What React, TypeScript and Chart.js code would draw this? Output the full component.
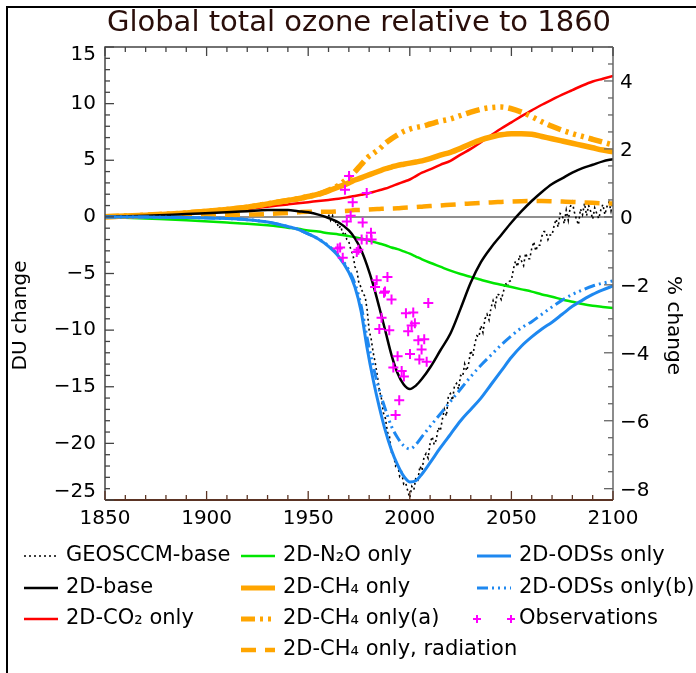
import React, { useEffect, useRef } from "react";
import { Chart, registerables } from "chart.js";

Chart.register(...registerables);

const FONT_FAMILY = "'DejaVu Sans', 'Liberation Sans', Arial, sans-serif";

const chartTitle = "Global total ozone relative to 1860";
const leftAxisTitle = "DU change";
const rightAxisTitle = "% change";

const yearRange = [1850, 2100];
const duRange = [-25, 15];
const duPerPercent = 3;
const xMajorTicks = [1850, 1900, 1950, 2000, 2050, 2100];
const xMinorStep = 10;
const duMajorTicks = [15, 10, 5, 0, -5, -10, -15, -20, -25];
const duMinorStep = 1;
const pctMajorTicks = [4, 2, 0, -2, -4, -6, -8];
const pctMinorStep = 0.5;

// 2D model years
const modelYears = [
  1850, 1870, 1890, 1910, 1920, 1930, 1940, 1945, 1950, 1955,
  1960, 1965, 1970, 1973, 1976, 1979, 1982, 1985, 1988, 1991,
  1994, 1997, 2000, 2003, 2006, 2010, 2015, 2020, 2025, 2030,
  2035, 2040, 2045, 2050, 2055, 2060, 2065, 2070, 2075, 2080,
  2085, 2090, 2095, 2100,
];

const base2D = [
  0, 0.1, 0.25, 0.4, 0.5, 0.6, 0.6, 0.5, 0.4, 0.2,
  -0.1, -0.5, -1.2, -1.9, -2.9, -4.3, -6.0, -8.0, -10.1, -12.2,
  -13.8, -14.8, -15.2, -14.9, -14.3, -13.3, -11.8, -10.3, -8.1, -5.8,
  -4.0, -2.7, -1.6, -0.5, 0.5, 1.4, 2.2, 2.9, 3.4, 3.9,
  4.3, 4.6, 4.9, 5.1,
];

const co2Only = [
  0, 0.12, 0.3, 0.55, 0.7, 0.9, 1.1, 1.2, 1.3, 1.4,
  1.5, 1.6, 1.75, 1.85, 1.95, 2.05, 2.2, 2.35, 2.5, 2.7,
  2.9, 3.1, 3.3, 3.6, 3.9, 4.2, 4.6, 4.95, 5.5, 6.0,
  6.6, 7.2, 7.8, 8.35, 8.9, 9.4, 9.9, 10.35, 10.8, 11.2,
  11.6, 11.95, 12.2, 12.45,
];

const n2oOnly = [
  0, -0.15, -0.3, -0.5, -0.6, -0.75, -0.95, -1.05, -1.2, -1.3,
  -1.45, -1.55, -1.7, -1.8, -1.9, -2.05, -2.2, -2.35, -2.5, -2.7,
  -2.85, -3.05, -3.25, -3.5, -3.75, -4.05, -4.4, -4.75, -5.05, -5.3,
  -5.55, -5.8, -6.0, -6.2, -6.4, -6.6, -6.85, -7.05, -7.3, -7.5,
  -7.7, -7.85, -7.95, -8.05,
];

const ch4Only = [
  0, 0.15, 0.35, 0.65, 0.85, 1.15, 1.45, 1.6, 1.8, 2.0,
  2.3, 2.65, 3.0, 3.25, 3.45, 3.65, 3.85, 4.05, 4.25, 4.4,
  4.55, 4.65, 4.75, 4.85, 4.95, 5.15, 5.45, 5.7, 6.05, 6.45,
  6.8, 7.05, 7.25, 7.35, 7.35, 7.3, 7.1, 6.9, 6.7, 6.5,
  6.3, 6.1, 5.9, 5.75,
];

const ch4OnlyA = [
  0, 0.15, 0.35, 0.65, 0.85, 1.15, 1.45, 1.6, 1.8, 2.0,
  2.35, 2.8, 3.5, 4.0, 4.6, 5.2, 5.6, 6.0, 6.5, 6.9,
  7.25, 7.55, 7.75, 7.9, 8.0, 8.2, 8.45, 8.65, 8.95, 9.25,
  9.5, 9.65, 9.7, 9.55, 9.25, 8.85, 8.4, 8.0, 7.65, 7.35,
  7.1, 6.85, 6.6, 6.35,
];

const ch4Radiation = [
  0, 0.05, 0.1, 0.15, 0.2, 0.25, 0.35, 0.4, 0.45, 0.45,
  0.45, 0.5, 0.55, 0.6, 0.62, 0.65, 0.68, 0.7, 0.72, 0.74,
  0.76, 0.8, 0.83, 0.86, 0.9, 0.95, 1.0, 1.07, 1.13, 1.18,
  1.23, 1.28, 1.32, 1.36, 1.39, 1.4, 1.4, 1.38, 1.35, 1.32,
  1.28, 1.24, 1.2, 1.17,
];

const odsOnly = [
  0, -0.02, -0.05, -0.15, -0.25, -0.45, -0.85, -1.1, -1.5, -1.95,
  -2.6, -3.5, -4.9, -6.2, -8.3, -11.6, -14.4, -16.8, -18.9, -20.6,
  -21.9, -22.9, -23.4, -23.3, -22.7, -21.7, -20.4, -19.2, -18.0, -17.0,
  -16.0, -14.8, -13.6, -12.4, -11.4, -10.6, -9.9, -9.3, -8.6, -7.9,
  -7.35, -6.85, -6.45, -6.1,
];

const odsOnlyB = [
  0, -0.02, -0.05, -0.15, -0.25, -0.45, -0.85, -1.1, -1.5, -1.95,
  -2.55, -3.4, -4.7, -5.9, -7.8, -10.7, -13.2, -15.3, -17.0, -18.5,
  -19.5, -20.2, -20.5, -20.1, -19.4, -18.5, -17.4, -16.3, -15.2, -14.1,
  -13.1, -12.2, -11.3, -10.5, -9.8, -9.25, -8.6, -7.95, -7.35, -6.85,
  -6.45, -6.1, -5.85, -5.65,
];

// GEOSCCM-base, yearly from 1960
const geosStartYear = 1960;
const geosBase = [
  0.2, -0.3, 0.1, -0.6, -0.4, -1.0, -0.8, -1.5, -1.3, -2.0,
  -2.2, -2.9, -3.3, -4.4, -4.8, -5.9, -6.2, -6.8, -7.0, -8.2,
  -10.0, -10.8, -12.0, -12.9, -14.0, -15.3, -16.0, -17.3, -17.8, -19.0,
  -19.4, -20.8, -21.0, -22.0, -21.8, -22.9, -22.6, -23.6, -23.5, -24.2,
  -24.8, -23.8, -24.1, -23.0, -23.2, -22.0, -22.4, -21.2, -20.9, -21.3,
  -20.0, -19.4, -20.1, -19.7, -18.6, -18.9, -17.9, -17.0, -17.6, -15.8,
  -15.6, -16.2, -14.9, -14.7, -15.2, -14.0, -14.1, -13.0, -13.6, -12.9,
  -11.8, -12.3, -11.2, -10.5, -10.6, -9.6, -10.2, -9.0, -8.6, -9.1,
  -8.0, -7.4, -7.9, -6.8, -6.9, -7.3, -6.7, -5.8, -6.2, -5.7,
  -5.6, -4.6, -3.9, -4.4, -3.4, -3.9, -4.3, -3.2, -3.7, -3.7,
  -2.8, -2.2, -3.0, -2.5, -2.5, -1.7, -1.3, -1.3, -2.0, -1.6,
  -1.6, -0.8, -0.2, -0.9, 0.3, 0.15, -0.6, 0.6, -0.3, 0.9,
  1.3, 0.4, -0.2, -0.7, 0.7, 0.2, 1.2, 0.1, 1.0, 0.5,
  -0.2, 0.8, 0.3, -0.15, 0.6, 1.1, 0.2, 0.9, 1.3, 0.5,
  1.4,
];

// Observations
const obsYears = [
  1970.1, 1968.1, 1978.8, 1971.9, 1970.9, 1969.0, 1976.8, 1980.9, 1976.3, 1978.8,
  1981.2, 1964.5, 1965.7, 1974.7, 1973.9, 1967.0, 1989.0, 1983.7, 1982.9, 1987.3,
  1987.8, 1991.0, 2009.1, 1986.1, 1998.1, 2001.7, 1985.0, 1989.9, 1999.2, 2002.5,
  2000.9, 2004.2, 2007.1, 2005.8, 1994.0, 2000.1, 2004.7, 2008.3, 1991.9, 1996.0,
  1997.1, 1994.8, 1993.0,
];
const obsValues = [
  3.6, 2.4, 2.1, 1.3, 0.1, -0.4, -0.5, -1.4, -2.0, -2.0,
  -2.0, -2.8, -2.7, -2.9, -3.1, -3.6, -5.3, -5.6, -6.2, -6.7,
  -6.6, -7.3, -7.6, -8.9, -8.5, -8.45, -9.9, -10.0, -10.1, -9.4,
  -9.6, -10.9, -10.8, -11.7, -12.3, -12.1, -12.6, -12.8, -13.3, -13.6,
  -14.1, -16.2, -17.5,
];

const legendColumns = [
  ["GEOSCCM-base", "2D-base", "2D-CO\u2082 only"],
  ["2D-N\u2082O only", "2D-CH\u2084 only", "2D-CH\u2084 only(a)", "2D-CH\u2084 only, radiation"],
  ["2D-ODSs only", "2D-ODSs only(b)", "Observations"],
];

const toXY = (xs: number[], ys: number[]) => ys.map((y, i) => ({ x: xs[i], y }));

const fmt = (v: number) => (v < 0 ? "\u2212" + Math.abs(v) : String(v));

const decorPlugin = {
  id: "decor",
  beforeDatasetsDraw(chart: any) {
    const { ctx, chartArea: a, scales } = chart;
    const y0 = scales.y.getPixelForValue(0);
    ctx.save();
    ctx.strokeStyle = "#6a6a6a";
    ctx.lineWidth = 1.5;
    ctx.beginPath();
    ctx.moveTo(a.left, y0);
    ctx.lineTo(a.right, y0);
    ctx.stroke();
    ctx.restore();
  },
  afterDraw(chart: any) {
    const { ctx, chartArea: a, scales } = chart;
    const xs = scales.x;
    const ys = scales.y;
    const ps = scales.y2;
    ctx.save();

    // frame of the picture
    ctx.strokeStyle = "#000";
    ctx.lineWidth = 2;
    ctx.beginPath();
    ctx.moveTo(7, chart.height);
    ctx.lineTo(7, 7);
    ctx.lineTo(chart.width, 7);
    ctx.stroke();

    // axis box
    ctx.lineWidth = 1.5;
    ctx.strokeStyle = "#444";
    ctx.beginPath();
    ctx.moveTo(a.left, a.bottom);
    ctx.lineTo(a.left, a.top);
    ctx.lineTo(a.right, a.top);
    ctx.stroke();
    ctx.strokeStyle = "#666";
    ctx.beginPath();
    ctx.moveTo(a.right, a.top);
    ctx.lineTo(a.right, a.bottom);
    ctx.stroke();
    ctx.strokeStyle = "#5b3424";
    ctx.lineWidth = 2;
    ctx.beginPath();
    ctx.moveTo(a.left, a.bottom);
    ctx.lineTo(a.right, a.bottom);
    ctx.stroke();

    const MAJ = 9;
    const MIN = 5;
    // x ticks (bottom and top)
    ctx.lineWidth = 1.3;
    for (let v = yearRange[0]; v <= yearRange[1]; v += xMinorStep) {
      const px = xs.getPixelForValue(v);
      const len = xMajorTicks.includes(v) ? MAJ : MIN;
      ctx.strokeStyle = "#5b3424";
      ctx.beginPath();
      ctx.moveTo(px, a.bottom);
      ctx.lineTo(px, a.bottom - len);
      ctx.stroke();
      ctx.strokeStyle = "#444";
      ctx.beginPath();
      ctx.moveTo(px, a.top);
      ctx.lineTo(px, a.top + len);
      ctx.stroke();
    }
    // left DU ticks
    ctx.strokeStyle = "#444";
    for (let v = duRange[0]; v <= duRange[1]; v += duMinorStep) {
      const py = ys.getPixelForValue(v);
      const len = duMajorTicks.includes(v) ? MAJ : MIN;
      ctx.beginPath();
      ctx.moveTo(a.left, py);
      ctx.lineTo(a.left + len, py);
      ctx.stroke();
    }
    // right % ticks
    ctx.strokeStyle = "#666";
    for (let v = -8; v <= duRange[1] / duPerPercent + 1e-9; v += pctMinorStep) {
      const py = ps.getPixelForValue(v);
      const len = pctMajorTicks.includes(v) ? MAJ : MIN;
      ctx.beginPath();
      ctx.moveTo(a.right, py);
      ctx.lineTo(a.right - len, py);
      ctx.stroke();
    }

    // tick labels
    ctx.fillStyle = "#000";
    ctx.font = `20px ${FONT_FAMILY}`;
    ctx.textBaseline = "middle";
    ctx.textAlign = "right";
    duMajorTicks.forEach((v) => {
      let py = ys.getPixelForValue(v);
      py = Math.min(Math.max(py, a.top + 8), a.bottom - 8);
      ctx.fillText(fmt(v), a.left - 9, py);
    });
    ctx.textAlign = "left";
    pctMajorTicks.forEach((v) => {
      const py = ps.getPixelForValue(v) + 2;
      ctx.fillText(fmt(v), a.right + 7, py);
    });
    ctx.textAlign = "center";
    xMajorTicks.forEach((v) => {
      ctx.fillText(String(v), xs.getPixelForValue(v), a.bottom + 19);
    });

    // axis titles
    ctx.save();
    ctx.translate(21, (a.top + a.bottom) / 2 + 42);
    ctx.rotate(-Math.PI / 2);
    ctx.textAlign = "center";
    ctx.fillText(leftAxisTitle, 0, 0);
    ctx.restore();
    ctx.save();
    ctx.translate(673, (a.top + a.bottom) / 2 + 52);
    ctx.rotate(Math.PI / 2);
    ctx.textAlign = "center";
    ctx.fillText(rightAxisTitle, 0, 0);
    ctx.restore();

    // title
    ctx.font = `29px ${FONT_FAMILY}`;
    ctx.fillStyle = "#2a0e0a";
    ctx.textAlign = "center";
    ctx.fillText(chartTitle, (a.left + a.right) / 2, 23);

    // legend
    const colX = [24, 241, 477];
    const rowY = [556, 588, 619, 650];
    const sampleLen = 34;
    ctx.font = `21px ${FONT_FAMILY}`;
    ctx.fillStyle = "#000";
    ctx.textAlign = "left";
    ctx.textBaseline = "middle";
    legendColumns.forEach((col, ci) => {
      col.forEach((label, ri) => {
        const ds = chart.data.datasets.find((d: any) => d.label === label);
        if (!ds) return;
        const x = colX[ci];
        const y = rowY[ri];
        ctx.save();
        if (ds.showLine === false) {
          ctx.strokeStyle = ds.borderColor;
          ctx.lineWidth = 2;
          [x, x + sampleLen].forEach((cx) => {
            ctx.beginPath();
            ctx.moveTo(cx - 4, y);
            ctx.lineTo(cx + 4, y);
            ctx.moveTo(cx, y - 4);
            ctx.lineTo(cx, y + 4);
            ctx.stroke();
          });
        } else {
          ctx.strokeStyle = ds.borderColor;
          ctx.lineWidth = Math.min(ds.borderWidth, 5);
          ctx.setLineDash(ds.borderDash || []);
          ctx.beginPath();
          ctx.moveTo(x, y);
          ctx.lineTo(x + sampleLen, y);
          ctx.stroke();
        }
        ctx.restore();
        ctx.fillText(label, x + 42, y);
      });
    });

    ctx.restore();
  },
};

export default function App() {
  const canvasRef = useRef<HTMLCanvasElement | null>(null);

  useEffect(() => {
    document.body.style.margin = "0";
    const canvas = canvasRef.current;
    if (!canvas) return;

    const lineCommon = {
      pointRadius: 0,
      fill: false,
      cubicInterpolationMode: "monotone" as const,
    };

    const chart = new Chart(canvas, {
      type: "line",
      data: {
        datasets: [
          {
            label: "Observations",
            data: toXY(obsYears, obsValues),
            showLine: false,
            pointStyle: "cross",
            pointRadius: 5,
            pointBorderWidth: 2,
            borderColor: "#ff00ff",
            backgroundColor: "#ff00ff",
          },
          {
            ...lineCommon,
            label: "2D-ODSs only",
            data: toXY(modelYears, odsOnly),
            borderColor: "#1e88f0",
            borderWidth: 3,
          },
          {
            ...lineCommon,
            label: "2D-ODSs only(b)",
            data: toXY(modelYears, odsOnlyB),
            borderColor: "#1e88f0",
            borderWidth: 3,
            borderDash: [11, 4, 2, 4, 2, 4, 2, 4],
          },
          {
            ...lineCommon,
            label: "2D-base",
            data: toXY(modelYears, base2D),
            borderColor: "#000000",
            borderWidth: 2.5,
          },
          {
            ...lineCommon,
            label: "2D-CH\u2084 only",
            data: toXY(modelYears, ch4Only),
            borderColor: "#ffa500",
            borderWidth: 5.5,
          },
          {
            ...lineCommon,
            label: "2D-CH\u2084 only(a)",
            data: toXY(modelYears, ch4OnlyA),
            borderColor: "#ffa500",
            borderWidth: 5.5,
            borderDash: [14, 5, 3, 5, 3, 5, 3, 5],
          },
          {
            ...lineCommon,
            label: "2D-CH\u2084 only, radiation",
            data: toXY(modelYears, ch4Radiation),
            borderColor: "#ffa500",
            borderWidth: 4.5,
            borderDash: [15, 9],
          },
          {
            ...lineCommon,
            label: "2D-CO\u2082 only",
            data: toXY(modelYears, co2Only),
            borderColor: "#ff0000",
            borderWidth: 2.5,
          },
          {
            ...lineCommon,
            label: "2D-N\u2082O only",
            data: toXY(modelYears, n2oOnly),
            borderColor: "#00e600",
            borderWidth: 2.5,
          },
          {
            label: "GEOSCCM-base",
            data: geosBase.map((v, i) => ({ x: geosStartYear + i, y: v })),
            borderColor: "#000000",
            borderWidth: 1.6,
            borderDash: [2, 3],
            pointRadius: 0,
            tension: 0,
            fill: false,
          },
        ],
      },
      options: {
        responsive: false,
        animation: false,
        devicePixelRatio: 1,
        layout: { padding: { top: 47, left: 0, right: 0, bottom: 0 } },
        plugins: {
          legend: { display: false },
          title: { display: false },
          tooltip: { enabled: false },
        },
        scales: {
          x: {
            type: "linear",
            min: yearRange[0],
            max: yearRange[1],
            grid: { display: false, drawTicks: false },
            border: { display: false },
            ticks: { display: false },
            afterFit: (s: any) => {
              s.height = 173;
            },
          },
          y: {
            type: "linear",
            position: "left",
            min: duRange[0],
            max: duRange[1],
            grid: { display: false, drawTicks: false },
            border: { display: false },
            ticks: { display: false },
            afterFit: (s: any) => {
              s.width = 105;
            },
          },
          y2: {
            type: "linear",
            position: "right",
            min: duRange[0] / duPerPercent,
            max: duRange[1] / duPerPercent,
            grid: { display: false, drawTicks: false },
            border: { display: false },
            ticks: { display: false },
            afterFit: (s: any) => {
              s.width = 83;
            },
          },
        },
      },
      plugins: [decorPlugin],
    } as any);

    return () => {
      chart.destroy();
    };
  }, []);

  return (
    <canvas
      ref={canvasRef}
      width={696}
      height={673}
      style={{ display: "block", width: 696, height: 673 }}
    />
  );
}
